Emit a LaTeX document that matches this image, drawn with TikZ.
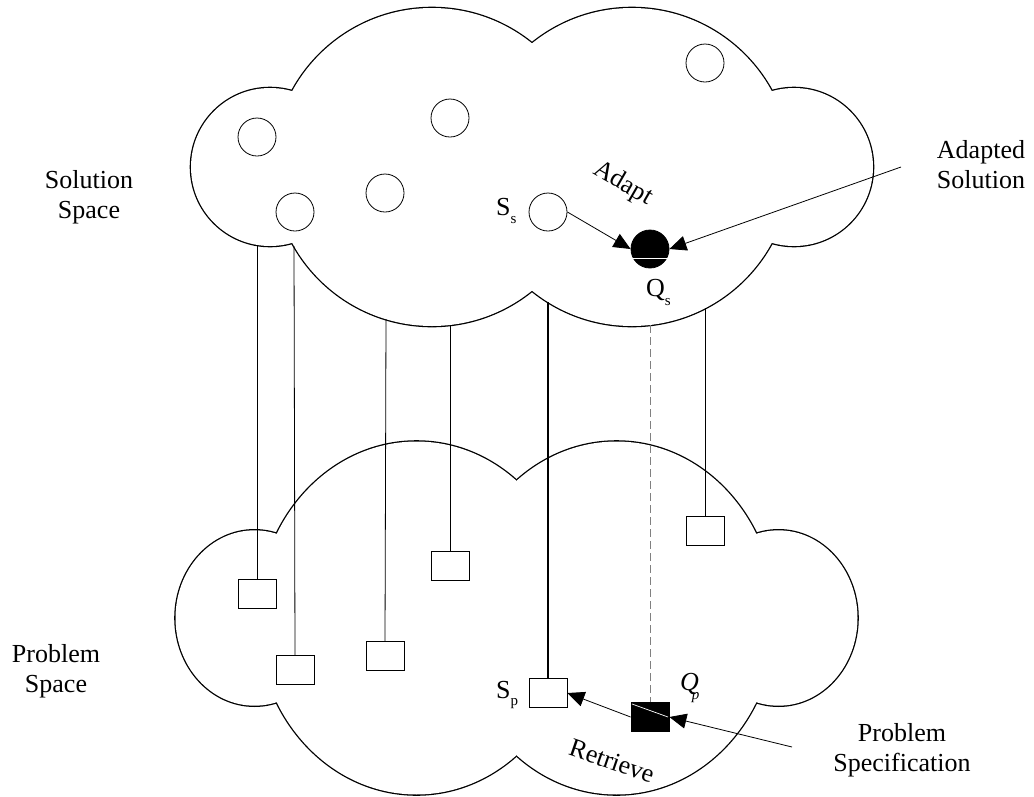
\documentclass[tikz,border=0pt]{standalone}
\usepackage{fontspec}
\setmainfont{Liberation Serif}
\usetikzlibrary{arrows.meta}

% Outline of a four-lobed cloud centred on the origin: the rims are
% stroked double width, then the union of the lobes is filled white,
% so only the outer half of each rim stays visible.
\newcommand{\drawcloudrim}{%
  \foreach \cx/\r in {-100/159,100/159,-262/79,262/79}
    \draw[line width=2.6pt] (\cx,0) circle[radius=\r];
  \foreach \cx/\r in {-100/159,100/159,-262/79,262/79}
    \fill[white] (\cx,0) circle[radius=\r];
}
\newcommand{\subtxt}[1]{{\fontsize{15}{15}\selectfont #1}}

\begin{document}
\begin{tikzpicture}[x=1pt,y=1pt,yscale=-1,
  lbl/.style={font=\fontsize{26}{30}\selectfont, align=center, inner sep=0pt},
  casecirc/.style={circle, draw, line width=0.8pt, minimum size=38pt, inner sep=0pt},
  casebox/.style={rectangle, draw, line width=0.8pt, minimum width=38pt,
                  minimum height=29pt, inner sep=0pt},
  caselink/.style={line width=0.8pt},
  arrowlink/.style={-{Triangle[length=17pt,width=15pt]}, line width=0.8pt},
]
\useasboundingbox (0,0) rectangle (1034,796);

% solution space and problem space
\begin{scope}[shift={(532,167)}]
  \drawcloudrim
\end{scope}
\begin{scope}[shift={(516.5,618)}, yscale=1.11]
  \drawcloudrim
\end{scope}

% stored solutions
\node[casecirc] (c1) at (257,137) {};
\node[casecirc] (c2) at (450,118) {};
\node[casecirc] (c3) at (705,63) {};
\node[casecirc] (c4) at (385,193) {};
\node[casecirc] (c5) at (295,212) {};
\node[casecirc] (ss) at (548,212) {};
\node[casecirc, fill=black] (qs) at (650,249) {};
\draw[white, line width=0.7pt] (632,258) -- (668,258);

% stored problems
\node[casebox] (b1) at (257,594) {};
\node[casebox] (b2) at (295,670) {};
\node[casebox] (b3) at (385,656) {};
\node[casebox] (b4) at (450,566) {};
\node[casebox] (b5) at (705,531) {};
\node[casebox] (sp) at (548,693) {};
\node[casebox, fill=black] (qp) at (650,717) {};

% links leave the lower rim of the solution space
\coordinate (e1) at (257,245);
\coordinate (e2) at (294,246);
\coordinate (e3) at (386,319);
\coordinate (e4) at (450,325);
\coordinate (e5) at (548,302);
\coordinate (e6) at (650,325);
\coordinate (e7) at (705,308);

\draw[caselink] (e1) -- (b1.north);
\draw[caselink] (e2) -- (b2.north);
\draw[caselink] (e3) -- (b3.north);
\draw[caselink] (e4) -- (b4.north);
\draw[line width=2.4pt] (e5) -- (sp.north);
\draw[gray, line width=1pt, dash pattern=on 8pt off 4pt] (e6) -- (qp.north);
\draw[caselink] (e7) -- (b5.north);

% adapt and retrieve
\coordinate (adsrc) at (901,167);
\coordinate (pssrc) at (792,747);
\draw[arrowlink] (ss.east) -- (qs.west);
\draw[arrowlink] (adsrc) -- (qs.east);
\draw[arrowlink] (pssrc) -- (qp.east);
\draw[arrowlink] (qp.west) -- (sp.east);
\draw[white, line width=0.7pt] (632,704) -- (668,717);

% labels
\node[lbl] (solsp) at (89,197) {Solution\\Space};
\node[lbl] (probsp) at (56,671) {Problem\\Space};
\node[lbl] (adsol) at (981,165) {Adapted\\Solution};
\node[lbl] (probspec) at (902,750) {Problem\\Specification};
\node[lbl, rotate=-30] (adapt) at (623,184) {Adapt};
\node[lbl, rotate=-19] (retr) at (612,761) {Retrieve};

\node[lbl, anchor=base west] (sslbl) at (496,215) {S\raisebox{-8pt}{\subtxt{s}}};
\node[lbl, anchor=base west] (qslbl) at (646,296) {Q\raisebox{-9pt}{\subtxt{s}}};
\node[lbl, anchor=base west] (splbl) at (496,698) {S\raisebox{-7pt}{\subtxt{p}}};
\node[lbl, anchor=base west] (qplbl) at (680,690) {\textit{Q}\kern-7pt\raisebox{-9pt}{\subtxt{\textit{p}}}};
\end{tikzpicture}
\end{document}
